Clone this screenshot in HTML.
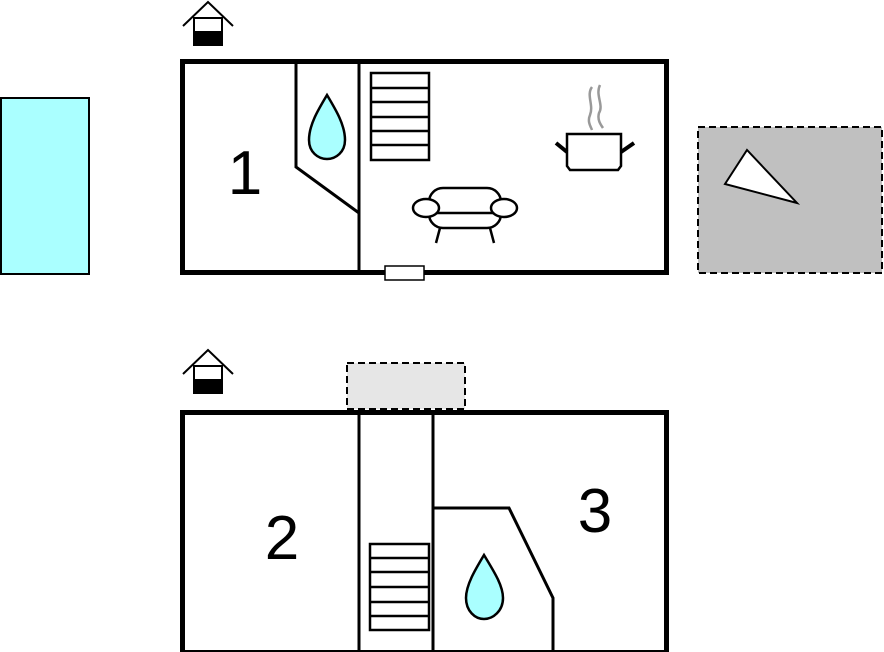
<!DOCTYPE html><html><head><style>body{margin:0;background:#fff}svg{display:block}</style></head><body>
<svg width="884" height="652" viewBox="0 0 884 652" xmlns="http://www.w3.org/2000/svg" font-family="Liberation Sans, sans-serif">
<rect x="1" y="98" width="88" height="176" fill="#aaffff" stroke="#000" stroke-width="2"/>
<rect x="698" y="127" width="184" height="146" fill="#c0c0c0" stroke="#000" stroke-width="2" stroke-dasharray="7,4"/>
<polygon points="725,184 747,150 797,203" fill="#fff" stroke="#000" stroke-width="2"/>
<rect x="347" y="363" width="118" height="46" fill="#e6e6e6" stroke="#000" stroke-width="2" stroke-dasharray="7,4"/>
<g id="h1"><polyline points="183,26 208,2 233,26" fill="none" stroke="#000" stroke-width="2"/><rect x="194" y="18" width="28" height="27" fill="#fff" stroke="#000" stroke-width="2"/><rect x="194" y="31" width="28" height="14" fill="#000"/></g>
<use href="#h1" y="348"/>
<rect x="182.5" y="61.5" width="484" height="211" fill="none" stroke="#000" stroke-width="5"/>
<line x1="359" y1="62" x2="359" y2="272" stroke="#000" stroke-width="3"/>
<polyline points="296,62 296,167 359,213" fill="none" stroke="#000" stroke-width="3"/>
<g fill="none" stroke="#000" stroke-width="2.5"><rect x="371" y="73" width="58" height="87" fill="#fff"/><line x1="371" y1="88" x2="429" y2="88"/><line x1="371" y1="102" x2="429" y2="102"/><line x1="371" y1="117" x2="429" y2="117"/><line x1="371" y1="131" x2="429" y2="131"/><line x1="371" y1="145" x2="429" y2="145"/></g>
<path d="M327,95 C318,110 309,125 309,140 C309,152 318,159 327,159 C336,159 345,152 345,140 C345,125 336,110 327,95Z" fill="#aaffff" stroke="#000" stroke-width="2.5"/>
<rect x="385" y="266" width="39" height="14" fill="#fff" stroke="#000" stroke-width="1.5"/>
<g fill="#fff" stroke="#000" stroke-width="2.5"><rect x="429" y="188" width="72" height="40" rx="14"/><line x1="440" y1="228" x2="436" y2="243"/><line x1="490" y1="228" x2="494" y2="243"/><line x1="430" y1="213" x2="500" y2="213"/><ellipse cx="426" cy="208" rx="13" ry="9"/><ellipse cx="504" cy="208" rx="13" ry="9"/></g>
<g fill="none"><path d="M592,87 C586,95 594,105 590,115 C587,122 591,127 592,130" stroke="#999" stroke-width="2.5"/><path d="M600,85 C595,95 604,105 599,113 C597,120 601,125 603,128" stroke="#999" stroke-width="2.5"/><path d="M567,134 H621 V166 L618,170 H570 L567,166 Z" fill="#fff" stroke="#000" stroke-width="2.5"/><line x1="556" y1="143" x2="567" y2="152" stroke="#000" stroke-width="4"/><line x1="621" y1="152" x2="634" y2="143" stroke="#000" stroke-width="4"/></g>
<text x="245" y="194" font-size="62" text-anchor="middle">1</text>
<rect x="182.5" y="412.5" width="484" height="240" fill="none" stroke="#000" stroke-width="5"/>
<line x1="359" y1="413" x2="359" y2="650" stroke="#000" stroke-width="3"/>
<line x1="433" y1="413" x2="433" y2="650" stroke="#000" stroke-width="3"/>
<polyline points="433,508 509,508 553,598 553,650" fill="none" stroke="#000" stroke-width="3"/>
<g fill="none" stroke="#000" stroke-width="2.5"><rect x="370" y="544" width="59" height="86"/><line x1="370" y1="558" x2="429" y2="558"/><line x1="370" y1="572" x2="429" y2="572"/><line x1="370" y1="587" x2="429" y2="587"/><line x1="370" y1="602" x2="429" y2="602"/><line x1="370" y1="616" x2="429" y2="616"/></g>
<path d="M484,555 C475,570 466,585 466,598 C466,611 475,619 484,619 C493,619 503,611 503,598 C503,585 493,570 484,555Z" fill="#aaffff" stroke="#000" stroke-width="2.5"/>
<text x="282" y="559" font-size="62" text-anchor="middle">2</text>
<text x="595" y="532" font-size="62" text-anchor="middle">3</text>
</svg></body></html>
